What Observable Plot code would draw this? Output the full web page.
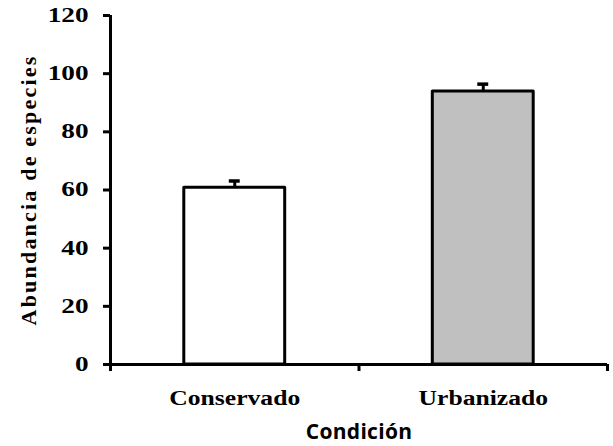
<!DOCTYPE html>
<html>
<head>
<meta charset="utf-8">
<script src="https://cdn.jsdelivr.net/npm/d3@7"></script>
<script src="https://cdn.jsdelivr.net/npm/@observablehq/plot@0.6"></script>
<style>
  html, body { margin: 0; padding: 0; background: #fff; }
  #chart svg { display: block; }
</style>
</head>
<body>
<div id="chart"></div>
<script>
const categories = ["Conservado", "Urbanizado"];
const values = [60.8, 93.9];
const errors = [2.3, 2.5];
const barColors = ["#ffffff", "#c0c0c0"];
const yTicks = [0, 20, 40, 60, 80, 100, 120];
const xLabel = "Condición";
const yLabel = "Abundancia de especies";

const data = categories.map((c, i) => ({
  cat: c, pos: i + 0.5, value: values[i], err: errors[i], fill: barColors[i]
}));
const boundaries = d3.range(categories.length + 1);
const halfBar = 0.203;
const halfCap = 0.022;
const serif = "Liberation Serif, Times New Roman, serif";

const plot = Plot.plot({
  width: 613,
  height: 446,
  marginLeft: 110,
  marginRight: 6,
  marginTop: 15,
  marginBottom: 82,
  style: { fontFamily: serif, color: "#000", background: "#fff" },
  x: { domain: [0, categories.length], axis: null },
  y: { domain: [0, 120], axis: null },
  marks: [
    Plot.rectY(data, {
      x1: d => d.pos - halfBar, x2: d => d.pos + halfBar, y1: 0, y2: "value",
      fill: "fill", stroke: "#000", strokeWidth: 3, strokeLinejoin: "round"
    }),
    Plot.ruleX(data, { x: "pos", y1: "value", y2: d => d.value + d.err, stroke: "#000", strokeWidth: 3 }),
    Plot.ruleY(data, { y: d => d.value + d.err, x1: d => d.pos - halfCap, x2: d => d.pos + halfCap, stroke: "#000", strokeWidth: 3.5 }),
    Plot.axisY({
      ticks: yTicks, tickSize: 7, tickPadding: 15, strokeWidth: 3,
      fontSize: 20, fontWeight: "bold", fontFamily: serif,
      label: yLabel, labelAnchor: "center", labelArrow: "none", labelOffset: 90
    }),
    Plot.axisX({ ticks: boundaries, tickSize: 7, strokeWidth: 3, tickFormat: () => "", label: null }),
    Plot.ruleX([0], { y1: 0, y2: 120, stroke: "#000", strokeWidth: 3 }),
    Plot.ruleY([0], { x1: 0, x2: categories.length, stroke: "#000", strokeWidth: 3 }),
    Plot.text(data, {
      x: "pos", y: 0, text: "cat", dy: 34, fontSize: 20, fontWeight: "bold",
      fontFamily: serif, fill: "#000"
    }),
    Plot.text([xLabel], {
      x: categories.length / 2, y: 0, text: d => d, dy: 68, fontSize: 21,
      fontWeight: "bold", fontFamily: "Open Sans, sans-serif", fill: "#000"
    })
  ]
});

document.getElementById("chart").appendChild(plot);
d3.select(plot).selectAll("text").each(function () {
  const t = this.textContent;
  if (t === yLabel) {
    d3.select(this).style("font-weight", "bold").style("font-size", "22px")
      .style("font-family", serif).style("letter-spacing", "2.2px");
  } else if (t === xLabel) {
    d3.select(this).style("letter-spacing", "0.3px");
  } else if (t.length) {
    const stretch = /^\d+$/.test(t) ? 1.36 : 1.28;
    const len = this.getComputedTextLength();
    this.setAttribute("textLength", (len * stretch).toFixed(1));
    this.setAttribute("lengthAdjust", "spacingAndGlyphs");
  }
});
</script>
</body>
</html>
